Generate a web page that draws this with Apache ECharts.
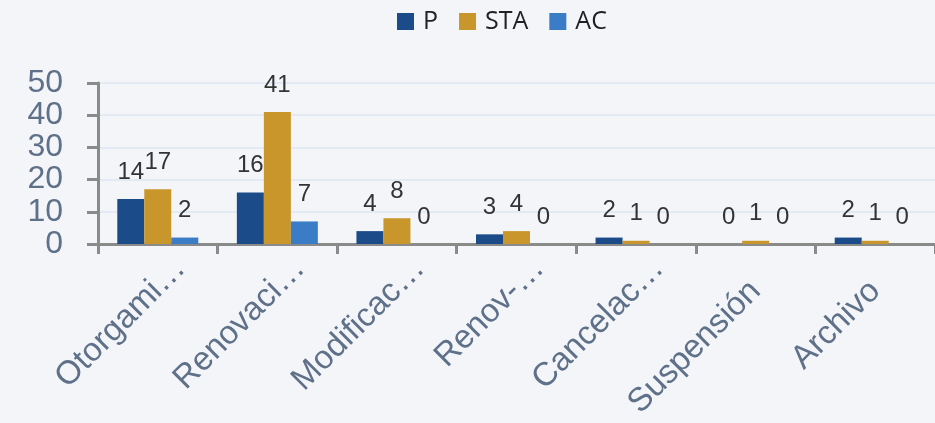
<!DOCTYPE html>
<html><head><meta charset="utf-8">
<script src="https://cdn.jsdelivr.net/npm/echarts@6/dist/echarts.min.js"></script>
<style>html,body{margin:0;padding:0;background:#f3f5f9;}#c{width:935px;height:423px;}</style>
</head><body><div id="c"></div>
<script>
const categories = ["Otorgami\u2026", "Renovaci\u2026", "Modificac\u2026", "Renov-\u2026", "Cancelac\u2026", "Suspensión", "Archivo"];
const seriesNames = ["P", "STA", "AC"];
const valuesP = [14, 16, 4, 3, 2, 0, 2];
const valuesSTA = [17, 41, 8, 4, 1, 1, 1];
const valuesAC = [2, 7, 0, 0, 0, 0, 0];
const colors = ["#1c4b8a", "#c9962b", "#3a7cc5"];

// truncated labels let the ellipsis overflow past the tick anchor
const catData = categories.map(c => c.endsWith('\u2026')
  ? { value: c, textStyle: { padding: [0, -32, 0, 0] } }
  : c);

const chart = echarts.init(document.getElementById('c'));
const mk = (name, data, color) => ({
  name, type: 'bar', data, barWidth: 27, barGap: '0%',
  itemStyle: { color },
  label: { show: true, position: 'top', distance: 15, color: '#333', fontSize: 24, fontFamily: 'Liberation Sans' }
});
chart.setOption({
  backgroundColor: '#f3f5f9',
  animation: false,
  legend: {
    top: 4, left: 392, itemWidth: 17, itemHeight: 17, itemGap: 21,
    icon: 'rect',
    textStyle: { fontSize: 25, color: '#222', fontFamily: 'Open Sans', padding: [0, 0, 0, 4] },
    data: seriesNames
  },
  grid: { left: 98, top: 83, width: 840, height: 161 },
  xAxis: {
    type: 'category', data: catData,
    axisLine: { lineStyle: { color: '#8a8a8a', width: 3 } },
    axisTick: { show: true, length: 10, lineStyle: { color: '#8a8a8a', width: 3 } },
    axisLabel: { rotate: 45, fontSize: 33, color: '#5f7089', fontFamily: 'Liberation Sans', margin: 42, interval: 0 }
  },
  yAxis: {
    type: 'value', min: 0, max: 50, interval: 10,
    axisLine: { show: true, lineStyle: { color: '#8a8a8a', width: 3 } },
    axisTick: { show: true, length: 11, lineStyle: { color: '#8a8a8a', width: 3 } },
    splitLine: { lineStyle: { color: '#dfe6f0', width: 1.5 } },
    axisLabel: { fontSize: 32, color: '#5f7089', fontFamily: 'Liberation Sans', margin: 35 }
  },
  series: [mk(seriesNames[0], valuesP, colors[0]), mk(seriesNames[1], valuesSTA, colors[1]), mk(seriesNames[2], valuesAC, colors[2])]
});
</script></body></html>
